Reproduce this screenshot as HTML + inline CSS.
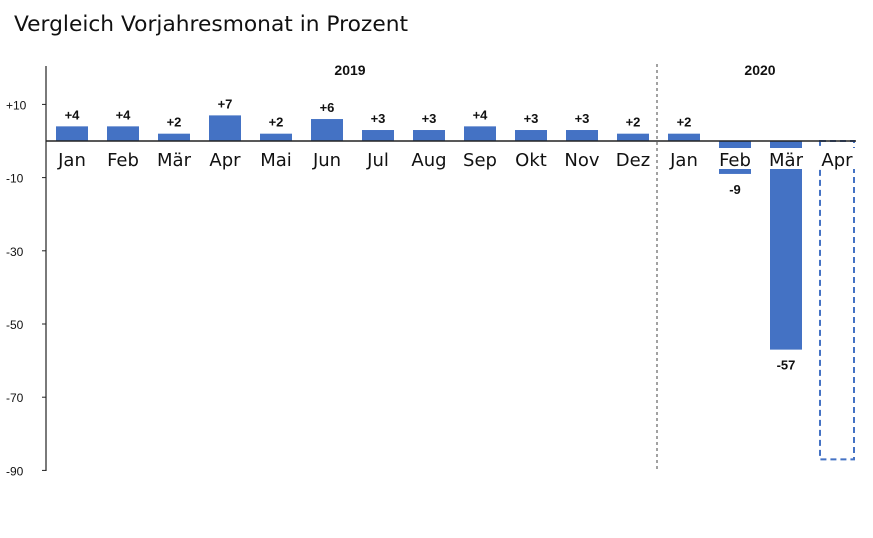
<!DOCTYPE html>
<html><head><meta charset="utf-8"><style>
body{margin:0;background:#fff;width:873px;height:538px;overflow:hidden}
svg{display:block}
</style></head><body>
<svg id="chart" width="873" height="538" xmlns="http://www.w3.org/2000/svg">
<text x="14" y="31" font-family="'DejaVu Sans','Liberation Sans',sans-serif" font-size="21" textLength="394" lengthAdjust="spacingAndGlyphs" fill="#111">Vergleich Vorjahresmonat in Prozent</text>
<g id="grid"></g>
<g id="bars"></g>
<g id="labels"></g>
</svg>
<script>
const categories=["Jan","Feb","Mär","Apr","Mai","Jun","Jul","Aug","Sep","Okt","Nov","Dez","Jan","Feb","Mär","Apr"];
const values=[4,4,2,7,2,6,3,3,4,3,3,2,2,-9,-57,-87];
const valueLabels=["+4","+4","+2","+7","+2","+6","+3","+3","+4","+3","+3","+2","+2","-9","-57",""];
const dashed=[false,false,false,false,false,false,false,false,false,false,false,false,false,false,false,true];
const yTicks=[10,-10,-30,-50,-70,-90];
const yTickLabels=["+10","-10","-30","-50","-70","-90"];
const years=["2019","2020"];
const NS="http://www.w3.org/2000/svg";
const y=v=>141-v*3.66;
const x=i=>72+i*51;
const bw=32;
function mk(tag,attrs,parent,text){const e=document.createElementNS(NS,tag);for(const k in attrs)e.setAttribute(k,attrs[k]);if(text!==undefined)e.textContent=text;parent.appendChild(e);return e;}
const grid=document.getElementById('grid'),bars=document.getElementById('bars'),labels=document.getElementById('labels');
const ax=mk('line',{x1:46,y1:66,x2:46,y2:471,stroke:'#222','stroke-width':1.2},grid);


yTicks.forEach((t,i)=>{
 const tx=mk('text',{x:6,y:y(t)+5,'font-family':"'Liberation Sans',sans-serif",'font-size':12,fill:'#111'},grid,yTickLabels[i]);
 
 
 mk('line',{x1:42,y1:y(t),x2:46,y2:y(t),stroke:'#222'},grid);
});
const sep=mk('line',{x1:657,y1:64,x2:657,y2:470,stroke:'#444','stroke-dasharray':'3,3'},grid);


[[350,years[0]],[760,years[1]]].forEach(([px,t])=>{
 const e=mk('text',{x:px,y:75,'text-anchor':'middle','font-family':"'Liberation Sans',sans-serif",'font-size':14,'font-weight':'bold',fill:'#111'},grid,t);
 
 
});
values.forEach((v,i)=>{
 const top=Math.min(y(v),y(0)),h=Math.abs(y(v)-y(0));
 let r;
 if(dashed[i]) r=mk('rect',{x:x(i)-17,y:top,width:34,height:h,fill:'none',stroke:'#4472c4','stroke-width':2,'stroke-dasharray':'6,4'},bars);
 else r=mk('rect',{x:x(i)-bw/2,y:top,width:bw,height:h,fill:'#4472c4'},bars);
 
 
 if(valueLabels[i]){
  const ly=v>=0?y(v)-7:y(v)+20;
  const t=mk('text',{x:x(i),y:ly,'text-anchor':'middle','font-family':"'Liberation Sans',sans-serif",'font-size':13,'font-weight':'bold',fill:'#111'},labels,valueLabels[i]);
  
  
 }
});
const zl=mk('line',{x1:46,y1:y(0),x2:856,y2:y(0),stroke:'#222','stroke-width':1.5},labels);


categories.forEach((c,i)=>{
 mk('rect',{x:x(i)-23,y:148,width:46,height:21,fill:'#fff'},labels);
 const t=mk('text',{x:x(i),y:166,'text-anchor':'middle','font-family':"'DejaVu Sans','Liberation Sans',sans-serif",'font-size':18,fill:'#111'},labels,c);
 
 
});
</script>
</body></html>
